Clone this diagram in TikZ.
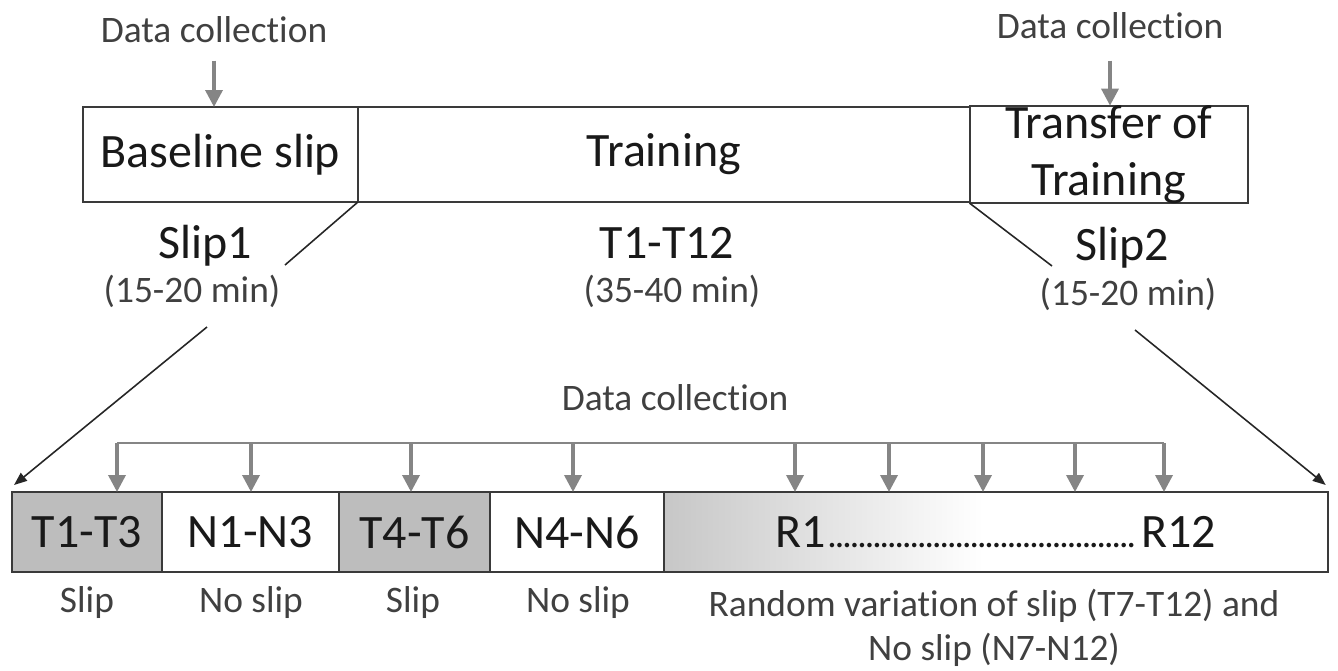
\documentclass[tikz,border=0pt]{standalone}
\usepackage{fontspec}
\setmainfont{Carlito}[Ligatures=NoCommon]
\usetikzlibrary{arrows.meta, positioning, backgrounds}
\newcommand{\bigtxt}{\fontsize{27.3pt}{32.2pt}\selectfont}
\newcommand{\smalltxt}{\fontsize{21.3pt}{25pt}\selectfont}
\newcommand{\rdots}[1]{{\smalltxt\leaders\hbox to 0.15cm{\hss.\hss}\hskip #1}}
\definecolor{boxline}{HTML}{3A3A3A}
\definecolor{collectgray}{HTML}{858585}
\definecolor{slipgray}{HTML}{BDBDBD}
\tikzstyle{phase}=[draw=boxline,line width=1.1pt,rectangle,inner sep=0pt,outer sep=0pt,minimum height=1.9cm,font=\bigtxt,text=black!90]
\tikzstyle{cell}=[phase,minimum height=1.6cm]
\tikzstyle{slipcell}=[cell,fill=slipgray]
\tikzstyle{bigtext}=[inner sep=0pt,font=\bigtxt,text=black!90]
\tikzstyle{smalltext}=[inner sep=0pt,font=\smalltxt,text=black!75]
\tikzstyle{collect}=[draw=collectgray,line width=2pt,-{Triangle[length=0.34cm,width=0.34cm]}]
\tikzstyle{zoomline}=[draw=black!85,line width=0.9pt]
\tikzstyle{zoomarrow}=[zoomline,-{Triangle[length=0.26cm,width=0.2cm]}]

\begin{document}
\begin{tikzpicture}[x=0.02cm,y=-0.02cm]
    \useasboundingbox (0,0) rectangle (1338,670);
    % session phases
    \node[phase, minimum width=5.5cm, anchor=north west] (base) at (83,107) {Baseline slip};
    \node[phase, minimum width=12.24cm, right=0pt of base] (train) {Training};
    \node[phase, minimum width=5.56cm, right=0pt of train, align=center] (xfer) {Transfer of\\Training};
    \node[smalltext, anchor=base] (dc1) at (214,42) {Data collection};
    \node[smalltext, anchor=base] (dc2) at (1110,38) {Data collection};
    \draw[collect, shorten <=0.36cm] (dc1) -- (dc1 |- base.north);
    \draw[collect, shorten <=0.44cm] (dc2) -- (dc2 |- xfer.north);
    \node[bigtext, anchor=base] (s1) at (205,258) {Slip1};
    \node[smalltext, anchor=base] (d1) at (192,302) {(15-20 min)};
    \node[bigtext, anchor=base] (tt) at (667,258) {T1-T12};
    \node[smalltext, anchor=base] (d2) at (672,302) {(35-40 min)};
    \node[bigtext, anchor=base] (s2) at (1122,260) {Slip2};
    \node[smalltext, anchor=base] (d3) at (1128,305) {(15-20 min)};
    % training blocks
    \node[slipcell, minimum width=3cm, anchor=north west] (t13) at (12,492) {T1-T3};
    \node[cell, minimum width=3.54cm, right=0pt of t13] (n13) {N1-N3};
    \node[slipcell, minimum width=3.02cm, right=0pt of n13] (t46) {T4-T6};
    \node[cell, minimum width=3.48cm, right=0pt of t46] (n46) {N4-N6};
    \node[cell, minimum width=13.28cm, right=0pt of n46] (rand) {R1\rdots{6.3cm}R12};
    \begin{scope}[on background layer]
        \shade[left color=slipgray!85, right color=white] (rand.north west) rectangle ([xshift=6.4cm]rand.south west);
    \end{scope}
    \node[smalltext, anchor=base] (l1) at (87,612) {Slip};
    \node[smalltext, anchor=base] (l2) at (251,612) {No slip};
    \node[smalltext, anchor=base] (l3) at (413,612) {Slip};
    \node[smalltext, anchor=base] (l4) at (578,612) {No slip};
    \node[smalltext, align=center] (l5) at (994,628) {Random variation of slip (T7-T12) and\\No slip (N7-N12)};
    % data collection bracket
    \node[smalltext, anchor=base] (dc3) at (675,410) {Data collection};
    \coordinate (barL) at (117,443);
    \coordinate (barR) at (1164,443);
    \draw[collectgray, line width=1.5pt] (barL) -- (barR);
    \foreach \x in {117,251,411,573,795,889,983,1075,1164}
        \draw[collect] (\x,443) -- (\x,0 |- t13.north);
    % zoom lines
    \coordinate (z1) at (285,265);
    \coordinate (z2) at (1052,266);
    \coordinate (z3) at (207,327);
    \coordinate (z4) at (1135,330);
    \draw[zoomline] (base.south east) -- (z1);
    \draw[zoomline] (xfer.south west) -- (z2);
    \draw[zoomarrow] (z3) -- ([xshift=0.04cm, yshift=0.14cm]t13.north west);
    \draw[zoomarrow] (z4) -- ([xshift=-0.04cm, yshift=0.14cm]rand.north east);
\end{tikzpicture}
\end{document}
